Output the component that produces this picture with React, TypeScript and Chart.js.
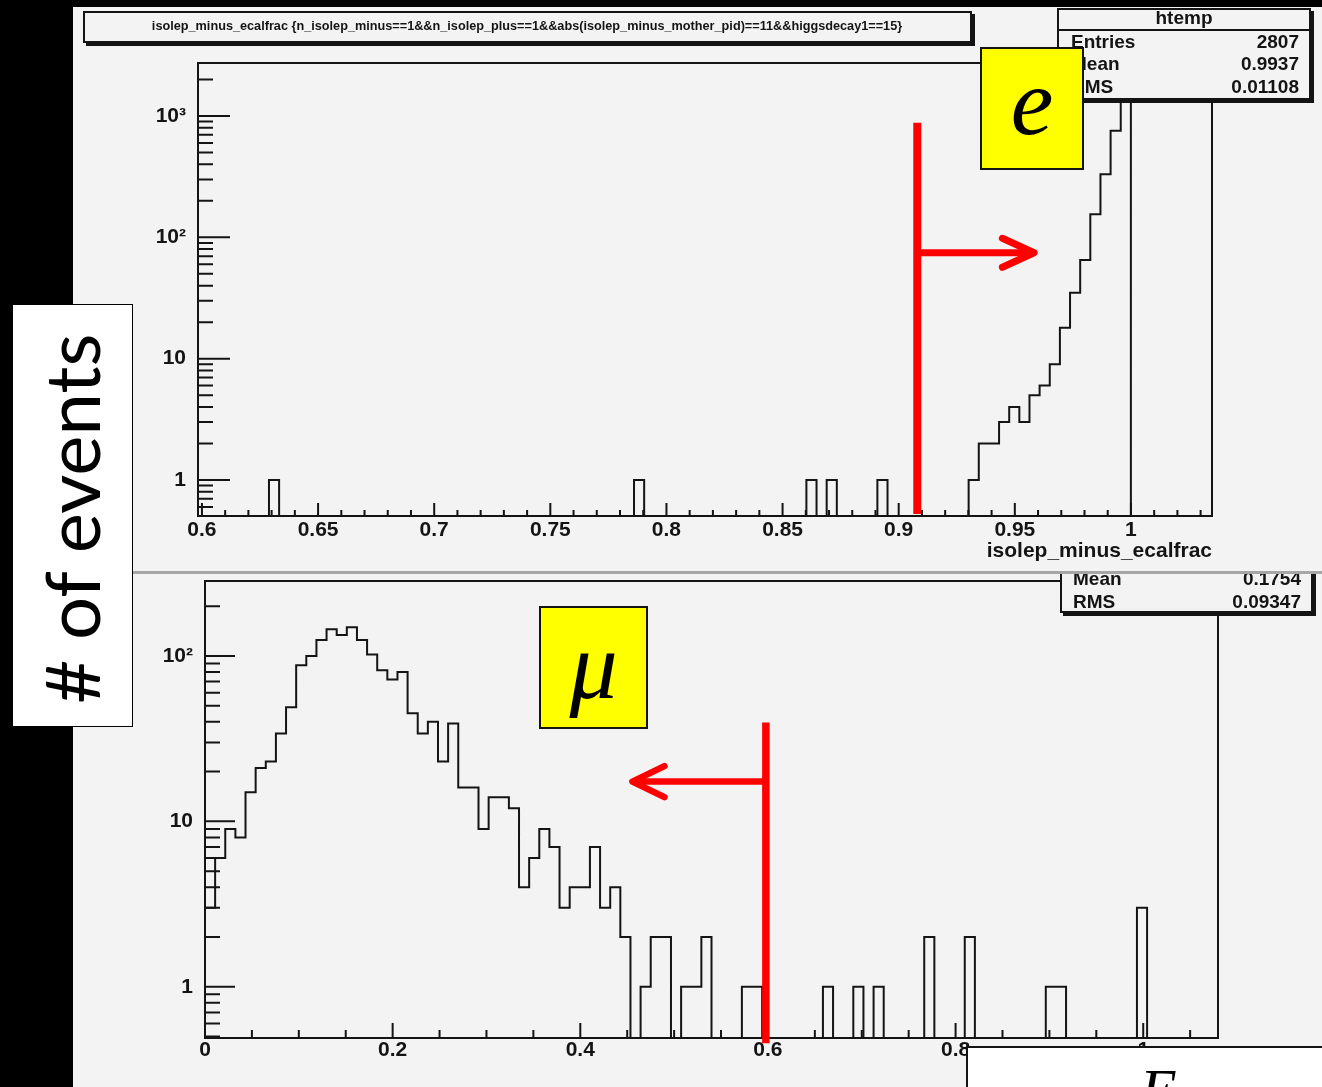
import React, { useEffect, useRef } from "react";
import { Chart, registerables } from "chart.js";

Chart.register(...registerables);

const SANS = "'Liberation Sans', Arial, Helvetica, sans-serif";
const SERIF = "'Liberation Serif', 'Times New Roman', serif";
const INK = "#141414";
const PANEL = "#f3f3f3";
const RED = "#ff0000";

// ---------------- electron histogram (top) ----------------
const topTitle =
  "isolep_minus_ecalfrac {n_isolep_minus==1&&n_isolep_plus==1&&abs(isolep_minus_mother_pid)==11&&higgsdecay1==15}";
const topXTitle = "isolep_minus_ecalfrac";
const topXRange = [0.5983, 1.0349];
const topNBins = 100;
const topBinIndex = [7, 43, 60, 62, 67, 76, 77, 78, 79, 80, 81, 82, 83, 84, 85, 86, 87, 88, 89, 90, 91];
const topBinCount = [1, 1, 1, 1, 1, 1, 2, 2, 3, 4, 3, 5, 6, 9, 18, 35, 65, 155, 331, 756, 1407];
const topYRange = [0.505, 2735];
const topXTicks = [0.6, 0.65, 0.7, 0.75, 0.8, 0.85, 0.9, 0.95, 1];
const topXLabels = ["0.6", "0.65", "0.7", "0.75", "0.8", "0.85", "0.9", "0.95", "1"];
const topYTicks = [1, 10, 100, 1000];
const topYLabels = ["1", "10", "10²", "10³"];
const topStatNames = ["Entries", "Mean", "RMS"];
const topStatValues = ["2807", "0.9937", "0.01108"];
const topCut = { x: 0.908, yLow: 0.524, yHigh: 881, arrowY: 74.6, tipX: 0.9598 };

// ---------------- muon histogram (bottom) ----------------
const botXRange = [0, 1.0797];
const botNBins = 100;
const botBinIndex = [
  0, 1, 2, 3, 4, 5, 6, 7, 8, 9, 10, 11, 12, 13, 14, 15, 16, 17, 18, 19, 20, 21, 22, 23, 24, 25, 26, 27, 28, 29,
  30, 31, 32, 33, 34, 35, 36, 37, 38, 39, 40, 41, 43, 44, 45, 47, 48, 49, 53, 54, 61, 64, 66, 71, 75, 83, 84, 92,
];
const botBinCount = [
  3, 6, 9, 8, 15, 21, 23, 34, 49, 88, 100, 125, 145, 134, 149, 125, 102, 82, 72, 80, 45, 34, 40, 23, 39, 16, 16, 9, 14, 14,
  12, 4, 6, 9, 7, 3, 4, 4, 7, 3, 4, 2, 1, 2, 2, 1, 1, 2, 1, 1, 1, 1, 1, 2, 2, 1, 1, 3,
];
const botYRange = [0.49, 284];
const botXTicks = [0, 0.2, 0.4, 0.6, 0.8, 1];
const botXLabels = ["0", "0.2", "0.4", "0.6", "0.8", "1"];
const botYTicks = [1, 10, 100];
const botYLabels = ["1", "10", "10²"];
const botStatNames = ["Mean", "RMS"];
const botStatValues = ["0.1754", "0.09347"];
const botCut = { x: 0.5978, yLow: 0.455, yHigh: 39.6, arrowY: 17.4, tipX: 0.4521 };

function buildSteps(range: number[], nBins: number, idx: number[], cnt: number[], floor: number) {
  const w = (range[1] - range[0]) / nBins;
  const counts: number[] = new Array(nBins).fill(0);
  idx.forEach((k, i) => (counts[k] = cnt[i]));
  const pts: { x: number; y: number }[] = [];
  for (let k = 0; k < nBins; k++) pts.push({ x: range[0] + k * w, y: counts[k] > 0 ? counts[k] : floor });
  pts.push({ x: range[1], y: floor });
  return pts;
}

const rootAxesPlugin = {
  id: "rootAxes",
  afterDatasetsDraw(chart: any, _args: any, o: any) {
    const { ctx, chartArea: a } = chart;
    const xs = chart.scales.x;
    const ys = chart.scales.y;
    ctx.save();
    ctx.strokeStyle = INK;
    ctx.lineWidth = 2;
    ctx.lineCap = "butt";
    ctx.beginPath();
    const step = o.xMinorStep;
    const i0 = Math.ceil(xs.min / step - 1e-6);
    const i1 = Math.floor(xs.max / step + 1e-6);
    for (let i = i0; i <= i1; i++) {
      const v = i * step;
      const major = o.xMajor.some((m: number) => Math.abs(m - v) < step / 10);
      const px = xs.getPixelForValue(v);
      ctx.moveTo(px, a.bottom);
      ctx.lineTo(px, a.bottom - (major ? o.xMajorLen : o.xMinorLen));
    }
    for (let e = -1; e <= 4; e++) {
      for (let m = 1; m <= 9; m++) {
        const v = m * Math.pow(10, e);
        if (v < ys.min * 0.999 || v > ys.max) continue;
        const py = ys.getPixelForValue(v);
        ctx.moveTo(a.left, py);
        ctx.lineTo(a.left + (m === 1 ? o.yMajorLen : o.yMinorLen), py);
      }
    }
    ctx.stroke();
    ctx.strokeRect(a.left, a.top, a.right - a.left, a.bottom - a.top);

    const c = o.cut;
    ctx.strokeStyle = RED;
    const cx = xs.getPixelForValue(c.x);
    ctx.lineWidth = o.vWidth;
    ctx.beginPath();
    ctx.moveTo(cx, ys.getPixelForValue(c.yHigh));
    ctx.lineTo(cx, ys.getPixelForValue(c.yLow));
    ctx.stroke();
    const ay = ys.getPixelForValue(c.arrowY);
    const outer = xs.getPixelForValue(c.tipX);
    const dir = outer > cx ? 1 : -1;
    const tx = outer - dir * (o.hWidth / 2);
    ctx.lineWidth = o.hWidth;
    ctx.beginPath();
    ctx.moveTo(cx, ay);
    ctx.lineTo(tx - dir * 2, ay);
    ctx.stroke();
    ctx.lineCap = "round";
    ctx.lineJoin = "round";
    ctx.beginPath();
    ctx.moveTo(tx - dir * o.headLen, ay - o.headHalf);
    ctx.lineTo(tx, ay);
    ctx.lineTo(tx - dir * o.headLen, ay + o.headHalf);
    ctx.stroke();
    ctx.restore();
  },
};

type HistProps = {
  left: number;
  top: number;
  width: number;
  height: number;
  padTop: number;
  padRight: number;
  yAxisW: number;
  xAxisH: number;
  xRange: number[];
  nBins: number;
  binIndex: number[];
  binCount: number[];
  yRange: number[];
  xTicks: number[];
  xLabels: string[];
  yTicks: number[];
  yLabels: string[];
  xLabelPad: number;
  yLabelPad: number;
  xTitle?: string;
  xTitlePad?: number;
  axes: any;
};

function Hist(p: HistProps) {
  const ref = useRef<HTMLCanvasElement>(null);
  useEffect(() => {
    const pts = buildSteps(p.xRange, p.nBins, p.binIndex, p.binCount, p.yRange[0]);
    const tickFont = { family: SANS, size: 21, weight: "bold" as const };
    const chart = new Chart(ref.current as HTMLCanvasElement, {
      type: "line",
      data: {
        datasets: [
          {
            data: pts as any,
            stepped: true,
            borderColor: INK,
            borderWidth: 2,
            pointRadius: 0,
            pointHoverRadius: 0,
            fill: false,
          },
        ],
      },
      options: {
        animation: false,
        responsive: false,
        devicePixelRatio: 1,
        events: [],
        layout: { padding: { top: p.padTop, right: p.padRight, left: 0, bottom: 0 } },
        plugins: {
          legend: { display: false },
          tooltip: { enabled: false },
          rootAxes: p.axes,
        } as any,
        scales: {
          x: {
            type: "linear",
            min: p.xRange[0],
            max: p.xRange[1],
            afterBuildTicks: (s: any) => {
              s.ticks = p.xTicks.map((v) => ({ value: v }));
            },
            afterFit: (s: any) => {
              s.height = p.xAxisH;
              s.paddingLeft = 0;
              s.paddingRight = 0;
            },
            ticks: {
              autoSkip: false,
              maxRotation: 0,
              minRotation: 0,
              padding: p.xLabelPad,
              color: INK,
              font: tickFont,
              callback: (v: any) => {
                const i = p.xTicks.findIndex((t) => Math.abs(t - Number(v)) < 1e-9);
                return i >= 0 ? p.xLabels[i] : "";
              },
            },
            grid: { display: false, drawTicks: false },
            border: { display: false },
            title: p.xTitle
              ? {
                  display: true,
                  text: p.xTitle,
                  align: "end",
                  color: INK,
                  font: { family: SANS, size: 21, weight: "bold" },
                  padding: { top: 0, bottom: p.xTitlePad ?? 0 },
                }
              : { display: false },
          },
          y: {
            type: "logarithmic",
            min: p.yRange[0],
            max: p.yRange[1],
            afterBuildTicks: (s: any) => {
              s.ticks = p.yTicks.map((v) => ({ value: v, major: true }));
            },
            afterFit: (s: any) => {
              s.width = p.yAxisW;
              s.paddingTop = 0;
              s.paddingBottom = 0;
            },
            ticks: {
              autoSkip: false,
              padding: p.yLabelPad,
              color: INK,
              font: tickFont,
              callback: (v: any) => {
                const i = p.yTicks.findIndex((t) => Math.abs(t - Number(v)) < 1e-9 * t);
                return i >= 0 ? p.yLabels[i] : "";
              },
            },
            grid: { display: false, drawTicks: false },
            border: { display: false },
          },
        },
      } as any,
      plugins: [rootAxesPlugin],
    });
    return () => chart.destroy();
  }, []);
  return (
    <canvas
      ref={ref}
      width={p.width}
      height={p.height}
      style={{ position: "absolute", left: p.left, top: p.top, width: p.width, height: p.height }}
    />
  );
}

function T(props: {
  x: number;
  y: number;
  size: number;
  align?: "left" | "right" | "center";
  weight?: string;
  family?: string;
  italic?: boolean;
  children: React.ReactNode;
}) {
  const lh = props.size * 1.4;
  const base: React.CSSProperties = {
    position: "absolute",
    top: props.y - lh / 2,
    height: lh,
    lineHeight: lh + "px",
    fontSize: props.size,
    fontFamily: props.family ?? SANS,
    fontWeight: (props.weight ?? "bold") as any,
    fontStyle: props.italic ? "italic" : "normal",
    whiteSpace: "nowrap",
    color: INK,
  };
  const align = props.align ?? "left";
  if (align === "left") return <div style={{ ...base, left: props.x }}>{props.children}</div>;
  if (align === "right") return <div style={{ ...base, right: 1322 - props.x, textAlign: "right" }}>{props.children}</div>;
  return <div style={{ ...base, left: props.x - 600, width: 1200, textAlign: "center" }}>{props.children}</div>;
}

function Box(props: { left: number; top: number; width: number; height: number; bg?: string; border?: number; shadow?: boolean }) {
  return (
    <div
      style={{
        position: "absolute",
        left: props.left,
        top: props.top,
        width: props.width,
        height: props.height,
        boxSizing: "border-box",
        background: props.bg ?? PANEL,
        border: `${props.border ?? 2}px solid ${INK}`,
        boxShadow: props.shadow ? `3px 3px 0 ${INK}` : "none",
      }}
    />
  );
}

export default function App() {
  const topRowsY = [42, 64.5, 87.5];
  const botRowsY = [579, 602.5];
  return (
    <div
      style={{
        position: "absolute",
        left: 0,
        top: 0,
        width: 1322,
        height: 1087,
        background: "#000",
        overflow: "hidden",
      }}
    >
      {/* bottom pad */}
      <div style={{ position: "absolute", left: 73, top: 574, width: 1249, height: 513, background: PANEL }} />
      <Hist
        left={73}
        top={574}
        width={1249}
        height={513}
        padTop={7}
        padRight={104}
        yAxisW={132}
        xAxisH={49}
        xRange={botXRange}
        nBins={botNBins}
        binIndex={botBinIndex}
        binCount={botBinCount}
        yRange={botYRange}
        xTicks={botXTicks}
        xLabels={botXLabels}
        yTicks={botYTicks}
        yLabels={botYLabels}
        xLabelPad={0}
        yLabelPad={12}
        axes={{
          xMinorStep: 0.05,
          xMajor: botXTicks,
          xMajorLen: 15,
          xMinorLen: 8,
          yMajorLen: 30,
          yMinorLen: 15,
          cut: botCut,
          vWidth: 7.5,
          hWidth: 6.5,
          headLen: 32,
          headHalf: 15.5,
        }}
      />
      <Box left={1060} top={520} width={253} height={93} shadow />
      {botStatNames.map((n, i) => (
        <T key={"bn" + i} x={1073} y={botRowsY[i]} size={19}>
          {n}
        </T>
      ))}
      {botStatValues.map((v, i) => (
        <T key={"bv" + i} x={1301} y={botRowsY[i]} size={19} align="right">
          {v}
        </T>
      ))}
      <Box left={539} top={606} width={109} height={123} bg="#ffff00" />
      <div
        style={{
          position: "absolute",
          left: 539,
          top: 617.6,
          width: 109,
          height: 96,
          lineHeight: "96px",
          fontSize: 96,
          fontFamily: SERIF,
          fontStyle: "italic",
          textAlign: "center",
          color: "#000",
        }}
      >
        μ
      </div>
      <Box left={966} top={1046} width={400} height={100} bg="#ffffff" />
      <div
        style={{
          position: "absolute",
          left: 1140,
          top: 1060,
          height: 60,
          lineHeight: "60px",
          fontSize: 60,
          fontFamily: SERIF,
          fontStyle: "italic",
          color: "#000",
        }}
      >
        E
      </div>

      {/* top pad */}
      <div style={{ position: "absolute", left: 73, top: 7, width: 1249, height: 564, background: PANEL }} />
      <div style={{ position: "absolute", left: 73, top: 571, width: 1249, height: 3, background: "#a6a6a6" }} />
      <Hist
        left={73}
        top={7}
        width={1249}
        height={564}
        padTop={56}
        padRight={110}
        yAxisW={125}
        xAxisH={55}
        xRange={topXRange}
        nBins={topNBins}
        binIndex={topBinIndex}
        binCount={topBinCount}
        yRange={topYRange}
        xTicks={topXTicks}
        xLabels={topXLabels}
        yTicks={topYTicks}
        yLabels={topYLabels}
        xLabelPad={2}
        yLabelPad={12}
        xTitle={topXTitle}
        xTitlePad={6.7}
        axes={{
          xMinorStep: 0.01,
          xMajor: topXTicks,
          xMajorLen: 13,
          xMinorLen: 6,
          yMajorLen: 32,
          yMinorLen: 15,
          cut: topCut,
          vWidth: 8,
          hWidth: 7,
          headLen: 31.7,
          headHalf: 14.5,
        }}
      />
      <Box left={83} top={11} width={889} height={32} shadow />
      <T x={527} y={27} size={12.7} align="center">
        {topTitle}
      </T>
      <Box left={1057} top={8} width={254} height={92} shadow />
      <div style={{ position: "absolute", left: 1057, top: 29, width: 254, height: 2, background: INK }} />
      <T x={1184} y={18.5} size={19} align="center">
        htemp
      </T>
      {topStatNames.map((n, i) => (
        <T key={"tn" + i} x={1071} y={topRowsY[i]} size={19}>
          {n}
        </T>
      ))}
      {topStatValues.map((v, i) => (
        <T key={"tv" + i} x={1299} y={topRowsY[i]} size={19} align="right">
          {v}
        </T>
      ))}
      <Box left={980} top={47} width={104} height={123} bg="#ffff00" />
      <div
        style={{
          position: "absolute",
          left: 980,
          top: 54,
          width: 104,
          height: 96,
          lineHeight: "96px",
          fontSize: 96,
          fontFamily: SERIF,
          fontStyle: "italic",
          textAlign: "center",
          color: "#000",
        }}
      >
        e
      </div>

      {/* y-axis caption */}
      <div
        style={{
          position: "absolute",
          left: 12,
          top: 304,
          width: 121,
          height: 423,
          boxSizing: "border-box",
          background: "#ffffff",
          border: "1.5px solid #000",
        }}
      />
      <div
        style={{
          position: "absolute",
          left: 70.6 - 230,
          top: 518.5 - 45.6,
          width: 460,
          height: 91.2,
          lineHeight: "91.2px",
          fontSize: 76,
          fontFamily: "Lato, 'Open Sans', sans-serif",
          textAlign: "center",
          whiteSpace: "nowrap",
          color: "#000",
          transform: "rotate(-90deg)",
        }}
      >
        # of events
      </div>
    </div>
  );
}
